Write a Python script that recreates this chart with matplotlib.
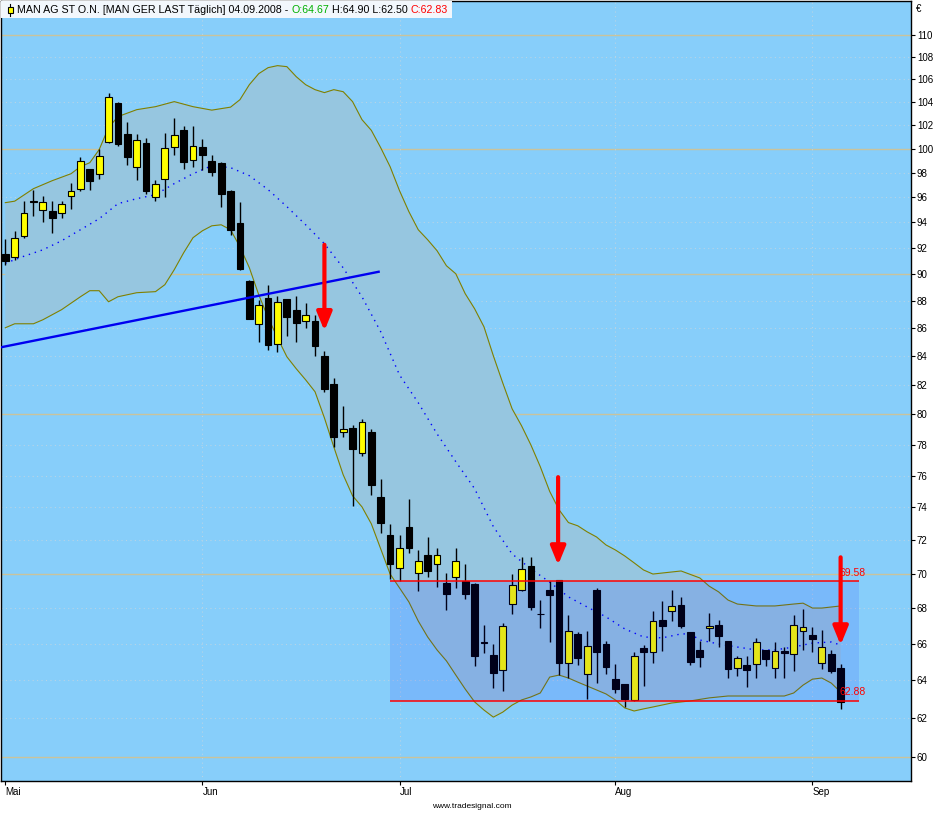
import numpy as np
import matplotlib
matplotlib.use("Agg")
import matplotlib.pyplot as plt
from matplotlib.patches import Rectangle
from matplotlib.lines import Line2D
from matplotlib.ticker import FixedLocator, NullLocator, NullFormatter

plt.rcParams['font.family'] = ['Liberation Sans', 'DejaVu Sans']

# daily candles, 02.05.2008 .. 04.09.2008 (index = trading day)
opens = [91.56, 91.31, 92.90, 95.70, 94.95, 94.93, 94.74, 96.07, 96.67, 98.31,
         97.89, 100.57, 103.91, 101.25, 98.48, 100.48, 96.02, 97.49, 100.14, 101.58,
         99.06, 100.17, 98.98, 98.81, 96.54, 93.94, 89.51, 86.31, 88.22, 84.88,
         88.14, 87.36, 86.53, 86.53, 84.04, 82.08, 78.86, 79.09, 77.45, 78.84,
         74.66, 72.31, 70.31, 72.78, 70.01, 71.10, 70.55, 69.45, 69.78, 69.58,
         69.39, 66.07, 65.38, 64.54, 68.21, 69.03, 70.45, 67.68, 69.06, 69.62,
         64.93, 66.54, 64.32, 69.04, 65.98, 64.06, 63.80, 62.95, 65.76, 65.56,
         67.31, 67.82, 68.16, 66.63, 65.65, 66.86, 67.03, 66.14, 64.65, 64.81,
         64.87, 65.63, 64.65, 65.61, 65.42, 66.69, 66.47, 64.93, 65.42, 64.67]
highs = [92.70, 93.34, 95.67, 96.62, 96.07, 95.67, 95.73, 97.16, 99.31, 98.35,
         99.98, 104.79, 104.00, 102.27, 101.21, 100.91, 97.43, 101.33, 102.61, 101.89,
         101.89, 100.82, 99.50, 98.85, 96.62, 95.62, 89.55, 88.09, 89.21, 88.34,
         88.17, 88.39, 87.85, 86.94, 84.40, 82.48, 80.54, 79.31, 79.71, 79.02,
         75.79, 72.98, 72.31, 74.51, 71.40, 72.16, 71.50, 70.01, 71.52, 70.57,
         69.43, 67.04, 65.98, 67.13, 69.97, 71.00, 71.00, 68.45, 69.58, 69.62,
         67.61, 66.67, 66.71, 69.16, 66.14, 64.89, 63.82, 65.52, 65.92, 67.85,
         68.41, 69.04, 68.62, 66.65, 66.14, 67.74, 67.31, 66.16, 65.32, 65.32,
         66.30, 65.65, 66.09, 65.80, 67.59, 67.94, 66.95, 66.77, 65.65, 64.90]
lows = [90.72, 91.05, 92.77, 94.47, 94.00, 93.16, 94.34, 95.09, 96.48, 96.62,
        97.51, 100.48, 100.19, 98.61, 97.43, 96.29, 95.67, 96.00, 99.50, 98.33,
        98.44, 98.25, 97.70, 95.22, 93.00, 90.34, 86.65, 84.99, 84.42, 84.28,
        85.47, 84.99, 85.99, 84.00, 81.49, 77.87, 78.53, 74.09, 77.27, 74.78,
        72.41, 69.66, 69.58, 71.20, 69.00, 69.81, 69.20, 67.89, 69.18, 68.54,
        64.79, 65.47, 63.60, 63.44, 67.68, 69.00, 67.89, 66.89, 66.11, 64.27,
        64.14, 64.85, 63.02, 63.87, 64.35, 63.34, 62.60, 62.90, 63.69, 64.96,
        65.61, 67.27, 66.85, 64.85, 64.74, 66.14, 65.83, 64.14, 64.25, 63.66,
        64.14, 64.79, 64.10, 64.10, 64.52, 65.65, 65.56, 64.59, 64.41, 62.50]
closes = [90.97, 92.77, 94.74, 95.65, 95.65, 94.31, 95.46, 96.51, 98.98, 97.29,
          99.42, 104.44, 100.42, 99.28, 100.74, 96.54, 97.08, 100.06, 101.16, 98.86,
          100.25, 99.44, 98.03, 96.27, 93.37, 90.39, 86.70, 87.70, 84.78, 87.92,
          86.79, 86.35, 86.97, 84.70, 81.76, 78.47, 79.04, 77.74, 79.49, 75.41,
          73.06, 70.55, 71.50, 71.50, 70.75, 70.17, 71.09, 68.83, 70.75, 68.83,
          65.34, 66.03, 64.41, 66.99, 69.32, 70.27, 68.07, 67.64, 68.77, 64.96,
          66.69, 65.23, 65.85, 65.56, 64.74, 63.55, 62.99, 65.31, 65.56, 67.29,
          67.00, 68.12, 67.00, 65.01, 65.25, 66.99, 66.44, 64.63, 65.19, 64.57,
          66.07, 65.14, 65.61, 65.50, 67.03, 66.92, 66.24, 65.83, 64.52, 62.83]

# bollinger bands
upper_x = [0, 1, 3, 5, 7, 8, 9, 10, 11, 12, 14, 16, 18, 20, 22, 24,
           25, 26, 27, 28, 29, 30, 31, 32, 33, 34, 35, 36, 37, 38, 39, 40,
           41, 42, 43, 44, 45, 46, 47, 48, 49, 50, 51, 52, 53, 54, 55, 56,
           57, 58, 59, 60, 61, 62, 63, 64, 65, 66, 67, 68, 69, 70,
           72, 74, 75, 76, 77, 78, 80, 82, 84, 85, 86, 87, 88, 89]
upper_y = [95.57, 95.69, 96.70, 97.35, 97.92, 98.5, 98.83, 99.92, 101.79, 102.73,
           103.33, 103.59, 104.03, 103.59, 103.29, 103.55,
           104.2, 105.52, 106.5, 107.04, 107.22, 107.13, 106.23, 105.52, 105.08, 104.82,
           105.08, 104.9, 104.03, 102.47, 101.55, 100.08, 98.5, 96.54, 94.85, 93.42,
           92.64, 91.79, 90.64, 90.03, 88.54, 87.43, 86.11, 84.04, 82.15, 80.38,
           79.25, 77.98, 76.57, 75.0, 73.85, 73.06, 72.86, 72.49, 72.18, 71.70,
           71.40, 71.04, 70.63, 70.21, 69.97, 70.03,
           70.15, 69.74, 69.26, 68.93, 68.46, 68.23, 68.12, 68.12, 68.23, 68.28,
           68.0, 68.0, 68.06, 68.12]
lower_x = [0, 1, 3, 4, 6, 8, 9, 10, 11, 12, 14, 16, 17, 18, 19, 20, 21, 22, 23, 24,
           25, 26, 27, 28, 29, 30, 31, 32, 33, 34, 35, 36, 37, 38, 39, 40,
           41, 42, 43, 44, 45, 46, 47, 48, 49, 50, 51, 52, 53, 54, 55, 56,
           57, 58, 59, 60, 61, 62, 63, 64, 65, 66, 67, 68, 69,
           71, 73, 75, 77, 80, 83, 84, 85, 86, 87, 88, 89]
lower_y = [86.04, 86.33, 86.33, 86.62, 87.36, 88.31, 88.76, 88.76, 87.94, 88.31,
           88.61, 88.69, 89.21, 90.34, 91.63, 92.8, 93.34, 93.73, 93.81, 93.42,
           92.09, 90.49, 88.46, 86.77, 85.32, 83.97, 83.13, 82.36, 81.54, 79.77,
           77.85, 76.05, 74.72, 74.03, 72.98, 71.46, 69.97, 69.16, 68.35, 67.26,
           66.37, 65.65, 65.05, 64.28, 63.53, 62.85, 62.42, 62.05, 62.31, 62.68,
           62.95, 63.11, 63.32, 64.17, 64.28, 64.12, 63.9, 63.69, 63.48, 63.27,
           62.95, 62.53, 62.37, 62.48, 62.58,
           62.79, 62.9, 63.06, 63.16, 63.16, 63.16, 63.32, 63.74, 64.06, 64.12, 63.85, 63.37]
mid_x = list(range(0, 73, 2)) + [73, 74, 76, 78, 80, 82, 84, 86, 88, 89]
mid_y = [90.83, 91.37, 91.86, 92.56, 93.42, 94.29, 95.49, 95.89, 96.21, 97.11,
         97.92, 98.58, 98.42, 97.76, 96.62, 95.25, 93.81, 92.33, 90.48, 88.31,
         85.75, 82.7, 80.79, 78.71, 76.89, 75.17, 72.81, 71.16, 70.27, 69.5,
         68.64, 68.06, 67.5, 66.82, 66.37, 66.32, 66.54,
         66.54, 66.2, 65.98, 65.81, 65.65, 65.65, 65.81, 66.03, 66.09, 65.92]

# drawing tools
trend_x = [-0.56, 39.9]
trend_y = [84.63, 90.2]
range_x = [41, 91]
range_top, range_bottom = 69.58, 62.88
arrows = [(34, 92.25, 85.82), (58.9, 75.9, 70.5), (89, 70.96, 65.92)]

month_pos = [0, 21, 42, 65, 86]
month_lbl = ['Mai', 'Jun', 'Jul', 'Aug', 'Sep']
price_ticks = list(range(60, 111, 2))

W, H = 946, 813
fig = plt.figure(figsize=(W / 100, H / 100), dpi=100)
ax = fig.add_axes([1 / W, 1 - 781 / H, 910 / W, 780 / H])
ax.set_facecolor('#87CEFA')
ax.set_yscale('log')
ax.set_xlim(-0.46, 96.5)
ax.set_ylim(58.81, 113.2)

# grid
for v in price_ticks:
    if v % 10 == 0:
        ax.axhline(v, color='#C9C39C', lw=1, zorder=0.5)
    else:
        ax.axhline(v, color='#B8D4E6', lw=0.8, ls=(0, (1, 3)), zorder=0.5)
for m in month_pos[1:]:
    ax.axvline(m, color='#B8D4E6', lw=0.8, ls=(0, (1, 3)), zorder=0.5)

# bollinger band area
ax.fill(upper_x + lower_x[::-1], upper_y + lower_y[::-1], color='#96C6E0', lw=0, zorder=1)
ax.plot(upper_x, upper_y, color='#808000', lw=0.8, zorder=2)
ax.plot(lower_x, lower_y, color='#808000', lw=0.8, zorder=2)
ax.plot(mid_x, mid_y, color='#0000FF', lw=1.0, ls=(0, (1, 3.5)), zorder=2)

# candles
x = np.arange(len(closes))
o = np.array(opens)
c = np.array(closes)
lo_b = np.minimum(o, c)
hi_b = np.maximum(o, c)
hgt = np.maximum(hi_b - lo_b, 0.03)
up = c > o
ax.vlines(x, lows, highs, color='black', lw=1, zorder=4)
ax.bar(x, hgt, bottom=lo_b, width=0.72,
       color=np.where(up, '#FFFF00', '#000000'), edgecolor='black', lw=0.8, zorder=5)

# trend line
ax.plot(trend_x, trend_y, color='#0000F0', lw=1.7, zorder=6, solid_capstyle='butt')

# support / resistance box
ax.fill_between(range_x, range_bottom, range_top, color='#0000FF', alpha=0.1, lw=0, zorder=7)
ax.hlines([range_top, range_bottom], range_x[0], range_x[1], color='#FF0000', lw=1.1, zorder=8)
ax.annotate(f'{range_top:.2f}', (88.9, range_top), xytext=(0, 2), textcoords='offset points',
            color='#FF0000', fontsize=7.5, va='bottom', ha='left', zorder=8)
ax.annotate(f'{range_bottom:.2f}', (88.9, range_bottom), xytext=(0, 3), textcoords='offset points',
            color='#FF0000', fontsize=7.5, va='bottom', ha='left', zorder=8)

for ax_x, y0, y1 in arrows:
    ax.annotate('', xy=(ax_x, y1), xytext=(ax_x, y0),
                arrowprops=dict(arrowstyle='-|>,head_length=1.1,head_width=0.45',
                                color='#FF0000', lw=3, mutation_scale=10,
                                shrinkA=0, shrinkB=0), zorder=9)

# axes styling
for s in ax.spines.values():
    s.set_color('black')
    s.set_linewidth(1)
ax.yaxis.tick_right()
ax.yaxis.set_major_locator(FixedLocator(price_ticks))
ax.yaxis.set_minor_locator(NullLocator())
ax.yaxis.set_minor_formatter(NullFormatter())
ax.set_yticklabels([str(v) for v in price_ticks])
ax.tick_params(axis='y', length=3, width=0.8, pad=1.2, labelsize=7)
ax.set_xticks(month_pos)
ax.set_xticklabels(month_lbl)
for lbl in ax.get_xticklabels():
    lbl.set_horizontalalignment('left')
ax.tick_params(axis='x', length=3, width=0.8, pad=1.5, labelsize=7)

fig.text(916 / W, 1 - 9 / H, '€', fontsize=7, ha='left', va='center')
fig.text(472 / W, 1 - 806 / H, 'www.tradesignal.com', fontsize=6, ha='center', va='center')

# title bar with a small candle icon
fig.patches.append(Rectangle((1 / W, 1 - 18 / H), 451 / W, 17 / H, transform=fig.transFigure,
                             facecolor='#F2F7FC', edgecolor='none', zorder=10))
fig.patches.append(Rectangle((7.5 / W, 1 - 12.7 / H), 5 / W, 5.4 / H, transform=fig.transFigure,
                             facecolor='#FFFF00', edgecolor='black', lw=0.8, zorder=11))
fig.lines.append(Line2D([10 / W, 10 / W], [1 - 4.3 / H, 1 - 7.3 / H], transform=fig.transFigure,
                        color='black', lw=0.8, zorder=11))
fig.lines.append(Line2D([10 / W, 10 / W], [1 - 12.7 / H, 1 - 15.7 / H], transform=fig.transFigure,
                        color='black', lw=0.8, zorder=11))

segs = [('MAN AG ST O.N. [MAN GER LAST Täglich] 04.09.2008 - ', 'black'),
        ('O:64.67', '#00B000'),
        (' H:64.90 L:62.50 ', 'black'),
        ('C:62.83', '#FF0000')]

# chain the coloured parts of the title one after another
renderer = fig.canvas.get_renderer()
cur_x = 17
for txt, col in segs:
    t = fig.text(cur_x / W, 1 - 10 / H, txt, fontsize=7.7, color=col,
                 ha='left', va='center', zorder=12)
    cur_x = t.get_window_extent(renderer).x1

fig.savefig('out.png', dpi=100, facecolor='white')
